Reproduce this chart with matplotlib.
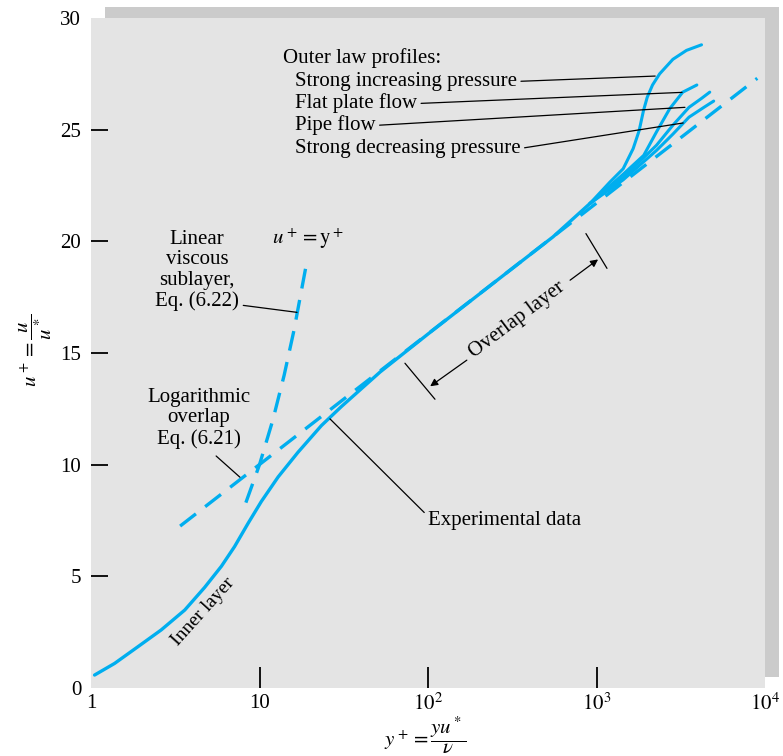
import matplotlib
matplotlib.use("Agg")
import matplotlib.pyplot as plt

plt.rcParams["font.family"] = ["Liberation Serif", "DejaVu Serif"]
plt.rcParams["mathtext.fontset"] = "stix"

# ── data ──────────────────────────────────────────────────────────
# experimental data, common trunk (y+, u+)
trunk_y = [1.05, 1.38, 1.90, 2.61, 3.60, 4.72, 5.94, 7.11, 8.55, 10.25, 12.9, 16.9,
           23.3, 30.6, 52, 100, 300, 552, 916]
trunk_u = [0.58, 1.10, 1.85, 2.60, 3.49, 4.50, 5.45, 6.33, 7.37, 8.35, 9.45, 10.55,
           11.75, 12.6, 14.15, 15.85, 18.65, 20.2, 21.7]

# outer law profiles (branch off the trunk at y+ ~ 900)
incr_y = [916, 1200, 1440, 1650, 1790, 1900, 2000, 2150, 2370, 2840, 3420, 4200]
incr_u = [21.7, 22.65, 23.25, 24.15, 24.95, 25.85, 26.45, 27.0, 27.5, 28.15, 28.55, 28.8]
flat_y = [916, 1438, 1907, 2270, 2720, 3250, 3940]
flat_u = [21.7, 23.0, 23.85, 24.9, 25.94, 26.68, 27.0]
pipe_y = [916, 1438, 2270, 2840, 3540, 4200, 4700]
pipe_u = [21.7, 22.85, 24.3, 25.2, 26.0, 26.4, 26.68]
decr_y = [916, 1438, 2270, 2840, 3540, 4340, 4960]
decr_u = [21.7, 22.75, 24.07, 24.8, 25.56, 26.0, 26.28]

# logarithmic overlap, Eq. (6.21) – straight line on semilog axes
log_y = [3.38, 9000]
log_u = [7.25, 27.3]

# linear viscous sublayer u+ = y+, Eq. (6.22)
lin_y = [8.3, 10, 12, 14, 16, 19]
lin_u = [8.3, 10, 12, 14, 16, 19]

x_ticks = [1, 10, 100, 1000, 10000]
x_labels = ["1", "10", "$10^2$", "$10^3$", "$10^4$"]
y_ticks = [0, 5, 10, 15, 20, 25, 30]

BLUE = "#00aeef"
FS = 15

# ── figure ────────────────────────────────────────────────────────
fig = plt.figure(figsize=(7.83, 7.56), dpi=100)
W, H = 783, 756
l, r, t, b = 91, 765, 18, 688

# drop shadow behind the plot panel (own axes, drawn first)
sh = fig.add_axes([105 / W, 1 - 677 / H, (r - l) / W, (b - t) / H])
sh.set_facecolor("#cbcbcb")
sh.set_xticks([])
sh.set_yticks([])
for s in sh.spines.values():
    s.set_visible(False)

ax = fig.add_axes([l / W, 1 - b / H, (r - l) / W, (b - t) / H])
ax.set_facecolor("#e4e4e4")
for s in ax.spines.values():
    s.set_visible(False)

ax.set_xscale("log")
ax.set_xlim(1, 1e4)
ax.set_ylim(0, 30)

ax.plot(trunk_y, trunk_u, color=BLUE, lw=2.4, solid_capstyle="round", solid_joinstyle="round")
for yy, uu in [(incr_y, incr_u), (flat_y, flat_u), (pipe_y, pipe_u), (decr_y, decr_u)]:
    ax.plot(yy, uu, color=BLUE, lw=2.2, solid_capstyle="round", solid_joinstyle="round")
ax.plot(log_y, log_u, color=BLUE, lw=2.4, dashes=(6, 3.5))
ax.plot(lin_y, lin_u, color=BLUE, lw=2.4, dashes=(6, 3.5))

# ticks
ax.set_xticks(x_ticks)
ax.set_xticklabels(x_labels)
ax.minorticks_off()
ax.set_yticks(y_ticks)
ax.tick_params(axis="y", direction="in", length=12, width=1.3, pad=7, labelsize=FS)
ax.tick_params(axis="x", direction="in", length=15, width=1.3, pad=4, labelsize=FS)
for tk in [ax.xaxis.get_major_ticks()[0], ax.xaxis.get_major_ticks()[-1],
           ax.yaxis.get_major_ticks()[0], ax.yaxis.get_major_ticks()[-1]]:
    tk.tick1line.set_visible(False)

fig.text(425 / W, 1 - 735 / H, r"$y^+ = \dfrac{yu^*}{\nu}$", ha="center", va="center", fontsize=FS)
fig.text(35 / W, 1 - 350 / H, r"$u^+ = \dfrac{u}{u^*}$", ha="center", va="center",
         fontsize=FS, rotation=90)

# ── annotations ───────────────────────────────────────────────────
line_kw = dict(arrowstyle="-", color="black", lw=0.9, shrinkA=1, shrinkB=0)

ax.text(13.8, 28.2, "Outer law profiles:", fontsize=FS, ha="left", va="center")
outer = [("Strong increasing pressure", 27.16, (2230, 27.4)),
         ("Flat plate flow", 26.17, (3220, 26.67)),
         ("Pipe flow", 25.19, (3350, 26.0)),
         ("Strong decreasing pressure", 24.16, (3270, 25.3))]
for txt, yt, xy in outer:
    ax.annotate(txt, xy=xy, xytext=(16.2, yt), fontsize=FS, ha="left", va="center",
                arrowprops=dict(relpos=(1, 0.5), **line_kw))

ax.text(4.26, 18.7, "Linear\nviscous\nsublayer,\nEq. (6.22)", fontsize=FS,
        ha="center", va="center", linespacing=1.1)
ax.annotate("", xy=(16.7, 16.82), xytext=(7.86, 17.14), arrowprops=line_kw)
ax.text(19.4, 20.13, r"$u^+ = \mathrm{y}^+$", fontsize=FS, ha="center", va="center")

ax.text(4.38, 12.08, "Logarithmic\noverlap\nEq. (6.21)", fontsize=FS,
        ha="center", va="center", linespacing=1.1)
ax.annotate("", xy=(7.65, 9.44), xytext=(5.45, 10.43), arrowprops=line_kw)

ax.annotate("Experimental data", xy=(26.2, 12.05), xytext=(100, 7.52), fontsize=FS,
            ha="left", va="center", arrowprops=dict(relpos=(0, 0.7), **line_kw))

ax.text(4.6, 3.4, "Inner layer", fontsize=FS - 1, ha="center", va="center", rotation=48)

# overlap layer bracket
ax.annotate("", xy=(110, 12.93), xytext=(72.1, 14.59), arrowprops=line_kw)
ax.annotate("", xy=(1154, 18.79), xytext=(857, 20.4), arrowprops=line_kw)
arr_kw = dict(arrowstyle="-|>", color="black", lw=0.9, mutation_scale=11, shrinkA=0, shrinkB=0)
ax.annotate("", xy=(103, 13.51), xytext=(170, 14.68), arrowprops=arr_kw)
ax.annotate("", xy=(1022, 19.19), xytext=(697, 18.26), arrowprops=arr_kw)
ax.text(339, 16.47, "Overlap layer", fontsize=FS, ha="center", va="center",
        rotation=37, rotation_mode="anchor")

fig.savefig("out.png", dpi=100)
